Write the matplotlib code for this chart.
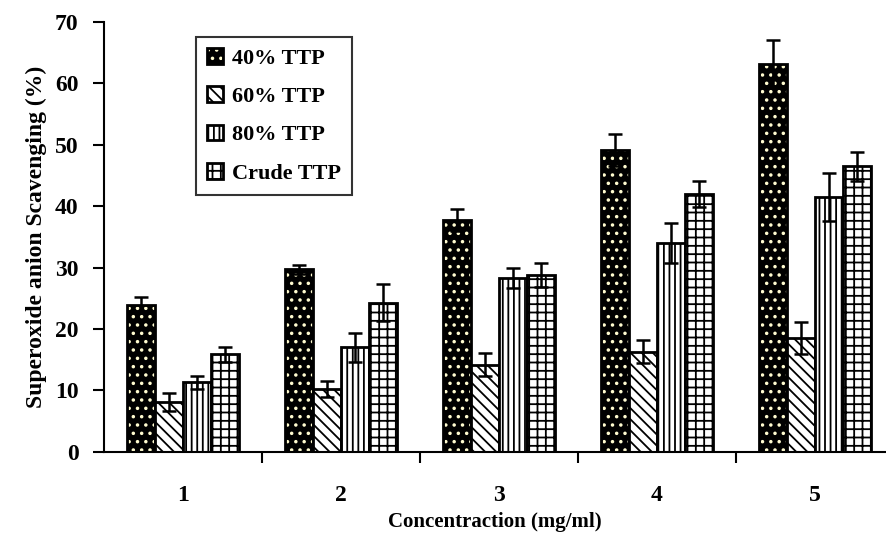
import numpy as np, matplotlib; matplotlib.use("Agg")
import matplotlib.pyplot as plt
from matplotlib.legend_handler import HandlerTuple

plt.rcParams["font.family"] = "Liberation Serif"
plt.rcParams["font.weight"] = "bold"
plt.rcParams["axes.labelweight"] = "bold"
plt.rcParams["hatch.linewidth"] = 1.3

conc = ["1", "2", "3", "4", "5"]
series = ["40% TTP", "60% TTP", "80% TTP", "Crude TTP"]
vals = [[23.9, 29.7, 37.7, 49.2, 63.2],
        [8.1, 10.2, 14.2, 16.3, 18.5],
        [11.3, 17.0, 28.3, 34.0, 41.5],
        [15.9, 24.3, 28.8, 42.0, 46.5]]
errs = [[1.3, 0.8, 1.8, 2.6, 3.9],
        [1.5, 1.3, 1.9, 1.9, 2.6],
        [1.0, 2.3, 1.7, 3.2, 3.9],
        [1.2, 3.0, 1.9, 2.1, 2.4]]
hatches = [None, "\\\\\\", "|||", "++"]

fig = plt.figure(figsize=(8.86, 5.49), dpi=100)
ax = fig.add_axes([0.117, 0.177, 0.883, 0.783])
x = np.arange(1, 6)
w = 0.177
handles = []
for i, s in enumerate(series):
    xs = x + (i - 1.5) * w
    if i == 0:
        b1 = ax.bar(xs, vals[i], w, color="black", edgecolor="#fffbd0", hatch="..", linewidth=0)
        b2 = ax.bar(xs, vals[i], w, color="none", edgecolor="black", linewidth=2)
        handles.append((b1[0], b2[0]))
    else:
        b = ax.bar(xs, vals[i], w, color="white", edgecolor="black", hatch=hatches[i], linewidth=2)
        handles.append(b[0])
    ax.errorbar(xs, vals[i], yerr=errs[i], fmt="none", ecolor="black", elinewidth=1.8, capsize=5, capthick=1.8)

ax.set_xlim(0.5, 5.45)
ax.set_ylim(0, 70)
ax.set_yticks(range(0, 71, 10))
ax.set_xticks(x)
ax.set_xticklabels(conc)
ax.set_xticks(x[:-1] + 0.5, minor=True)
ax.tick_params(axis="x", which="major", length=0, pad=24, labelsize=17)
ax.tick_params(axis="x", which="minor", length=8, width=1.5, direction="out")
ax.tick_params(axis="y", length=8, width=1.5, labelsize=17, pad=10)
for sp in ["top", "right"]:
    ax.spines[sp].set_visible(False)
for sp in ["left", "bottom"]:
    ax.spines[sp].set_linewidth(1.5)
ax.set_xlabel("Concentraction (mg/ml)", fontsize=15, fontweight="bold", labelpad=4)
ax.set_ylabel("Superoxide anion Scavenging (%)", fontsize=17, fontweight="bold", labelpad=6)
leg = ax.legend(handles, series, loc="upper left", bbox_to_anchor=(0.118, 0.965), fontsize=16,
                frameon=True, fancybox=False, edgecolor="black", handlelength=0.7, handleheight=0.7,
                handletextpad=0.4, labelspacing=0.8, borderpad=0.5, borderaxespad=0,
                handler_map={tuple: HandlerTuple(ndivide=1, pad=0)})
leg.get_frame().set_linewidth(1.5)
fig.savefig("out.png", dpi=100)
